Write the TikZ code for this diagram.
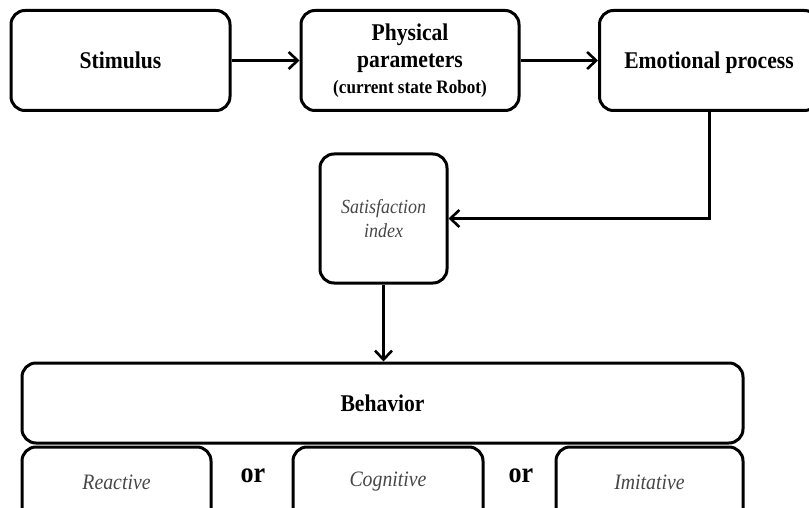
\documentclass[tikz,border=0pt]{standalone}
\usepackage{fontspec}
\setmainfont{Liberation Serif}[FakeStretch=0.9]
\usetikzlibrary{arrows.meta}
\begin{document}
\begin{tikzpicture}[x=1pt,y=-1pt,
  box/.style={draw=black,line width=3pt,rounded corners=14pt,fill=white,inner sep=0pt,align=center},
  boldtxt/.style={font=\fontsize{24}{27}\selectfont\bfseries},
  itxt/.style={font=\fontsize{20}{24}\selectfont\itshape,text=black!72},
  conn/.style={line width=3pt,-{Straight Barb[length=9pt,width=17pt,line width=2.6pt]}}
]
\useasboundingbox (0,0) rectangle (809,508);
\clip (0,0) rectangle (809,508);
\fill[white] (0,0) rectangle (809,508);
\node[box,boldtxt,minimum width=219pt,minimum height=100pt] (stim) at (120.5,60.5) {Stimulus};
\node[box,boldtxt,minimum width=218pt,minimum height=100pt] (phys) at (410,60.5) {Physical\\[0pt] parameters\\[-1pt] {\fontsize{19}{23}\selectfont (current state Robot)}};
\node[box,boldtxt,minimum width=219pt,minimum height=100pt,text depth=0pt] (emo) at (709,60.5) {Emotional process};
\node[box,itxt,minimum width=127pt,minimum height=129pt] (sat) at (383.5,218.5) {Satisfaction\\ index};
\node[box,boldtxt,minimum width=721pt,minimum height=80pt] (beh) at (382.5,403) {Behavior};
\node[box,minimum width=189pt,minimum height=90pt] (rea) at (116.5,492) {};
\node[box,minimum width=190pt,minimum height=90pt] (cog) at (388,492) {};
\node[box,minimum width=187pt,minimum height=90pt] (imi) at (649.5,492) {};
\node[itxt,font=\fontsize{22}{24}\selectfont\itshape] (reat) at (116.5,482) {Reactive};
\node[itxt,font=\fontsize{22}{24}\selectfont\itshape] (cogt) at (388,482) {Cognitive};
\node[itxt,font=\fontsize{22}{24}\selectfont\itshape] (imit) at (649.5,482) {Imitative};
\node[font=\fontsize{29}{30}\selectfont\bfseries] (or1) at (253,476) {or};
\node[font=\fontsize{29}{30}\selectfont\bfseries] (or2) at (521,476) {or};
\draw[conn] (stim.east) -- (phys.west);
\draw[conn] (phys.east) -- (emo.west);
\draw[conn] (emo.south) |- (sat.east);
\draw[conn] (sat.south) -- (beh.north -| sat.south);
\end{tikzpicture}
\end{document}
